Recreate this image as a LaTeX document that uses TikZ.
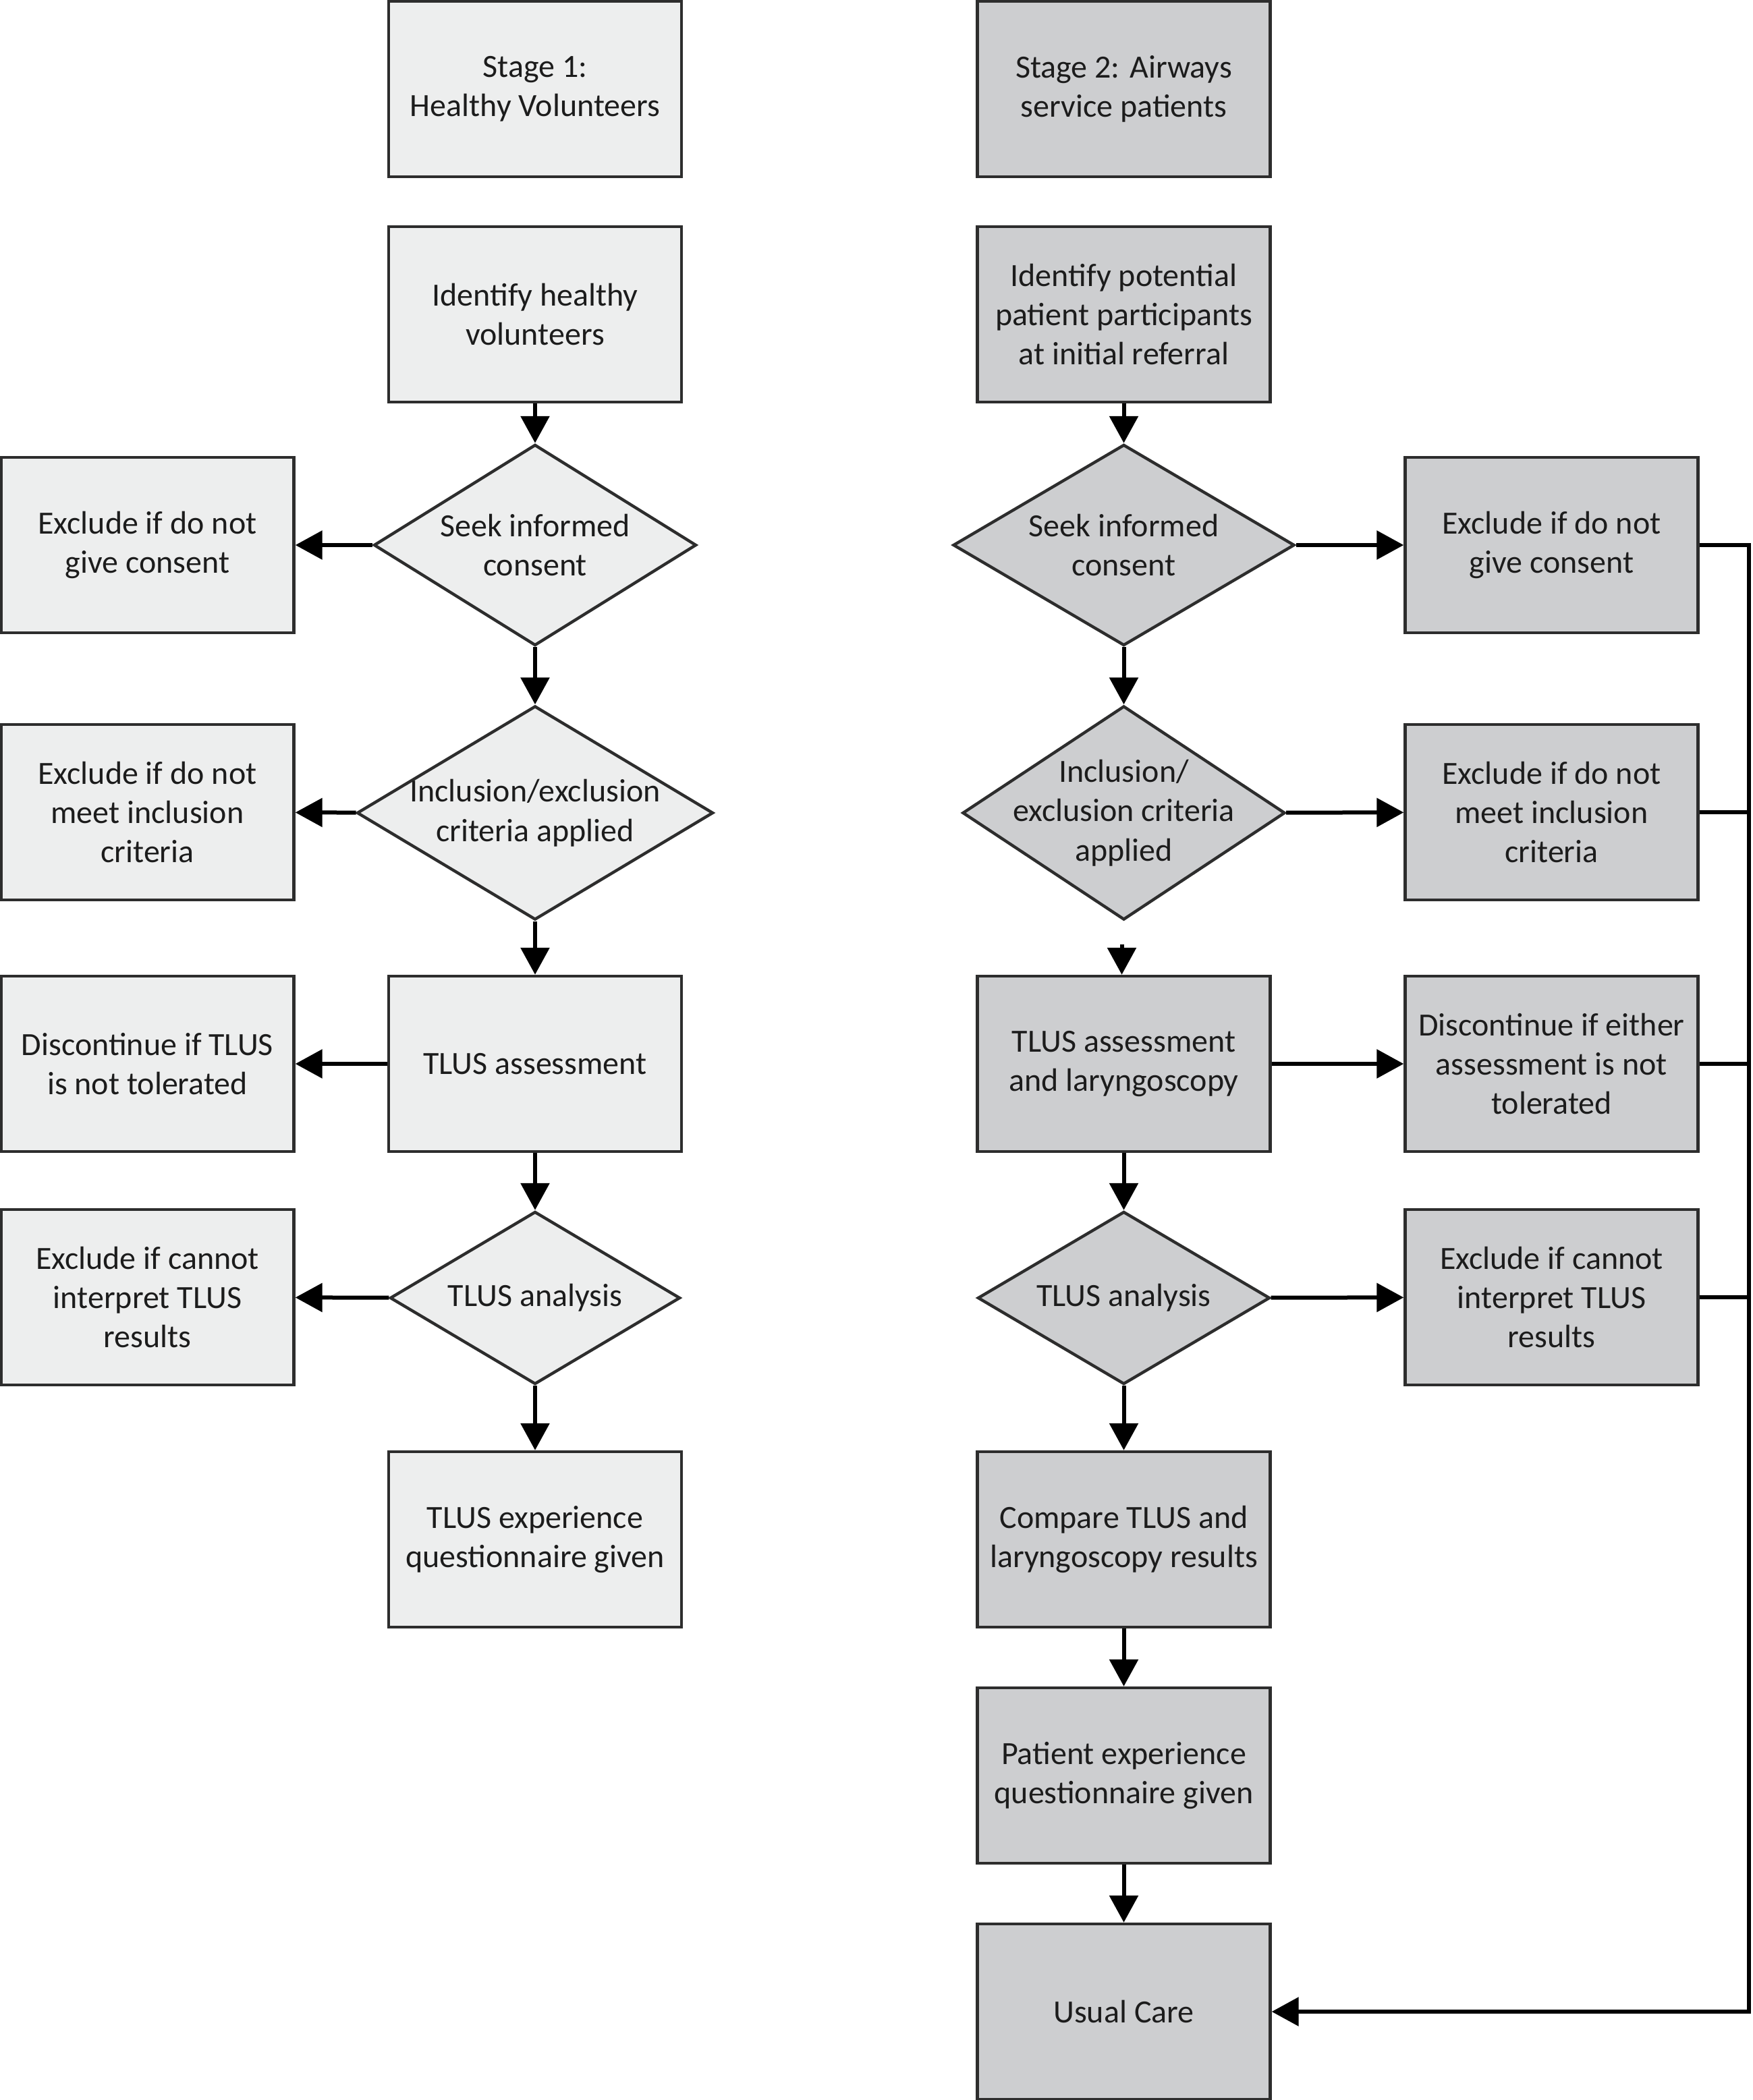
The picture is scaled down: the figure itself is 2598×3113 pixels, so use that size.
\documentclass[tikz,border=0pt]{standalone}
\usepackage{fontspec}
\setmainfont{Carlito}
\usetikzlibrary{shapes.geometric,arrows.meta}
\definecolor{lfill}{RGB}{237,238,238}
\definecolor{rfill}{RGB}{205,206,208}
\definecolor{bord}{RGB}{45,45,45}
\definecolor{txtc}{RGB}{28,28,28}
\begin{document}
\begin{tikzpicture}[x=0.25pt,y=-0.25pt,
  box/.style={draw=bord, line width=1.1pt, minimum width=108.5pt, minimum height=65pt,
    inner sep=0pt, align=center, font=\fontsize{12}{14.6}\selectfont, text=txtc},
  lbox/.style={box, fill=lfill},
  rbox/.style={box, fill=rfill},
  dia/.style={diamond, draw=bord, line width=1.1pt, inner sep=0pt},
  ldia/.style={dia, fill=lfill},
  rdia/.style={dia, fill=rfill},
  lab/.style={align=center, font=\fontsize{12}{14.6}\selectfont, text=txtc, inner sep=0pt},
  arr/.style={line width=1.5pt, draw=black, -{Triangle[length=10pt,width=10.5pt]}},
  ln/.style={line width=1.5pt, draw=black}]
\useasboundingbox (0,0) rectangle (2598,3113);

% ---------- Stage 1 (left) ----------
\node[lbox] (s1) at (793,132) {Stage 1:\\Healthy Volunteers};
\node[lbox] (lid) at (793,466) {Identify healthy\\volunteers};
\node[ldia, minimum width=119.5pt, minimum height=74.5pt] (lcon) at (793,808) {};
\node[lab] at (lcon) {Seek informed\\consent};
\node[lbox] (lex1) at (218.5,808) {Exclude if do not\\give consent};
\node[ldia, minimum width=132pt, minimum height=79.25pt] (linc) at (793,1205) {};
\node[lab] at (linc) {Inclusion/exclusion\\criteria applied};
\node[lbox] (lex2) at (218.5,1204) {Exclude if do not\\meet inclusion\\criteria};
\node[lbox] (ltl) at (793,1577) {TLUS assessment};
\node[lbox] (lex3) at (218.5,1577) {Discontinue if TLUS\\is not tolerated};
\node[ldia, minimum width=107.5pt, minimum height=64pt] (lan) at (793,1924) {};
\node[lab] at (lan) {TLUS analysis};
\node[lbox] (lex4) at (218.5,1923) {Exclude if cannot\\interpret TLUS\\results};
\node[lbox] (lexp) at (793,2282) {TLUS experience\\questionnaire given};

\draw[arr] (lid) -- (lcon);
\draw[arr] (lcon) -- (lex1);
\draw[arr] (lcon) -- (linc);
\draw[arr] (linc) -- (lex2);
\draw[arr] (linc) -- (ltl);
\draw[arr] (ltl) -- (lex3);
\draw[arr] (ltl) -- (lan);
\draw[arr] (lan) -- (lex4);
\draw[arr] (lan) -- (lexp);

% ---------- Stage 2 (right) ----------
\node[rbox] (s2) at (1665.5,132) {Stage 2: Airways\\service patients};
\node[rbox] (rid) at (1665.5,466) {Identify potential\\patient participants\\at initial referral};
\node[rdia, minimum width=126.5pt, minimum height=74.5pt] (rcon) at (1665.5,808) {};
\node[lab] at (rcon) {Seek informed\\consent};
\node[rbox] (rex1) at (2299.5,808) {Exclude if do not\\give consent};
\node[rdia, minimum width=119.5pt, minimum height=79.25pt] (rinc) at (1665.5,1205) {};
\node[lab] at (rinc) {Inclusion/\\exclusion criteria\\applied};
\node[rbox] (rex2) at (2299.5,1204) {Exclude if do not\\meet inclusion\\criteria};
\node[rbox] (rtl) at (1665.5,1577) {TLUS assessment\\and laryngoscopy};
\node[rbox] (rex3) at (2299.5,1577) {Discontinue if either\\assessment is not\\tolerated};
\node[rdia, minimum width=108.25pt, minimum height=64pt] (ran) at (1665.5,1924) {};
\node[lab] at (ran) {TLUS analysis};
\node[rbox] (rex4) at (2299.5,1923) {Exclude if cannot\\interpret TLUS\\results};
\node[rbox] (rcmp) at (1665.5,2282) {Compare TLUS and\\laryngoscopy results};
\node[rbox] (rpat) at (1665.5,2632) {Patient experience\\questionnaire given};
\node[rbox] (ruc) at (1665.5,2982) {Usual Care};

\draw[arr] (rid) -- (rcon);
\draw[arr] (rcon) -- (rex1);
\draw[arr] (rcon) -- (rinc);
\draw[arr] (rinc) -- (rex2);
\draw[arr, shorten <=8.5pt] (rinc.south) ++(-3,0) -- (rtl.north -| 1662.5,0);
\draw[arr] (rtl) -- (rex3);
\draw[arr] (rtl) -- (ran);
\draw[arr] (ran) -- (rex4);
\draw[arr] (ran) -- (rcmp);
\draw[arr] (rcmp) -- (rpat);
\draw[arr] (rpat) -- (ruc);

% feedback bus
\coordinate (busTop) at (2592,808);
\coordinate (busBot) at (2592,2982);
\draw[arr] (rex1.east) -- (busTop) -- (busBot) -- (ruc.east);
\draw[ln] (rex2.east) -- (rex2.east -| busTop);
\draw[ln] (rex3.east) -- (rex3.east -| busTop);
\draw[ln] (rex4.east) -- (rex4.east -| busTop);
\end{tikzpicture}
\end{document}
